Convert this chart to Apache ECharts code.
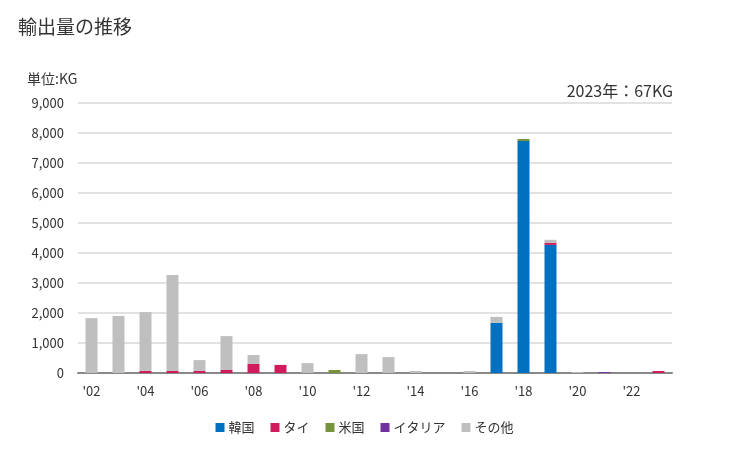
<!DOCTYPE html>
<html><head><meta charset="utf-8">
<script src="https://cdn.jsdelivr.net/npm/echarts@6/dist/echarts.min.js"></script>
<style>html,body{margin:0;padding:0;background:#fff}#c{width:729px;height:450px}</style>
</head><body><div id="c"></div>
<script>
const years = ['2002','2003','2004','2005','2006','2007','2008','2009','2010','2011','2012','2013','2014','2015','2016','2017','2018','2019','2020','2021','2022','2023'];
const korea = [0,0,0,0,0,0,0,0,0,0,0,0,0,0,0,1670,7730,4270,0,0,0,0];
const thai  = [0,0,70,70,70,100,300,270,0,0,0,0,0,0,0,0,0,70,0,0,0,67];
const usa   = [0,0,0,0,0,0,0,0,0,100,0,0,0,0,0,0,70,0,0,0,0,0];
const italy = [0,0,0,0,0,0,0,0,0,0,0,0,0,0,0,0,0,0,0,30,0,0];
const other = [1830,1900,1960,3200,360,1130,300,0,330,0,630,530,67,0,67,200,0,100,30,0,0,0];
const yTicks = [0,1000,2000,3000,4000,5000,6000,7000,8000,9000];

const font = '"Noto Sans CJK JP", "Noto Sans", sans-serif';
const mk = (name, data, color) => ({name, type:'bar', stack:'a', data, barWidth:12, itemStyle:{color}});
const chart = echarts.init(document.getElementById('c'));
chart.setOption({
  animation:false,
  textStyle:{fontFamily:font},
  title:[
    {text:'輸出量の推移', left:13, top:12, textStyle:{fontSize:19, fontWeight:'normal', color:'#333', fontFamily:font}},
    {text:'単位:KG', left:22, top:67, textStyle:{fontSize:14, fontWeight:'normal', color:'#333', fontFamily:font}},
    {text:'2023年：67KG', right:51, top:78, textStyle:{fontSize:16, fontWeight:'normal', color:'#333', fontFamily:font}}
  ],
  legend:{bottom:11, left:'center', itemWidth:9, itemHeight:9, itemGap:16, icon:'rect',
    textStyle:{fontSize:13, color:'#333', fontFamily:font, padding:[0,0,0,-1]}},
  grid:{left:78, right:57, top:103, bottom:77},
  xAxis:{type:'category', data:years,
    axisLine:{lineStyle:{color:'#888', width:2}}, axisTick:{show:false},
    axisLabel:{interval:1, color:'#333', fontSize:13, margin:12, formatter:v=>"'"+v.slice(2)}},
  yAxis:{type:'value', min:0, max:yTicks[yTicks.length-1], interval:1000,
    axisLine:{show:false}, axisTick:{show:false},
    splitLine:{lineStyle:{color:'#d9d9d9', width:1.5}},
    axisLabel:{color:'#333', fontSize:13, margin:14, formatter:v=>v.toLocaleString('en-US')}},
  series:[
    mk('韓国', korea, '#0070c0'),
    mk('タイ', thai, '#d01c5c'),
    mk('米国', usa, '#77933c'),
    mk('イタリア', italy, '#7030a0'),
    mk('その他', other, '#bfbfbf')
  ]
});
</script></body></html>
